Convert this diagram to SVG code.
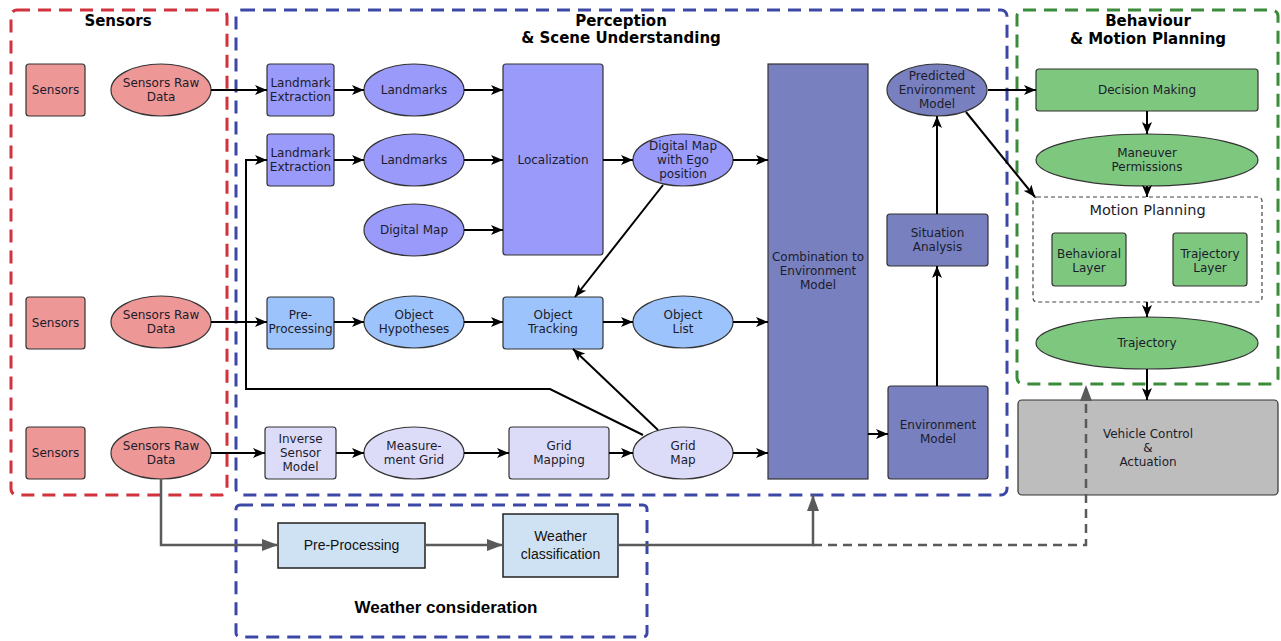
<svg xmlns="http://www.w3.org/2000/svg" width="1281" height="641" viewBox="0 0 1281 641">
<style>
.t{font-family:"DejaVu Sans",Verdana,sans-serif;font-size:12px;fill:#1c1c2c;text-anchor:middle}
.h{font-family:"DejaVu Sans",Verdana,sans-serif;font-size:15px;font-weight:bold;fill:#000;text-anchor:middle}
.w{font-family:"Liberation Sans",Arial,sans-serif;font-size:14px;fill:#111;text-anchor:middle}
.wh{font-family:"Liberation Sans",Arial,sans-serif;font-size:17px;font-weight:bold;fill:#000;text-anchor:middle}
.nd{stroke:#333;stroke-width:1.2}
.pink{fill:#ee9797}
.lav{fill:#9a9afa}
.obj{fill:#9cc3fb}
.grid{fill:#dcdcf9}
.env{fill:#7880bf}
.grn{fill:#7ec77f}
.gry{fill:#bdbdbd}
.wx{fill:#cfe2f3;stroke:#222;stroke-width:1.5}
.fr{fill:none;stroke-width:3;stroke-dasharray:13 8}
.c{fill:none;stroke:#000;stroke-width:2;marker-end:url(#ab)}
.cg{fill:none;stroke:#5a5a5a;stroke-width:2.5}
</style>
<defs>
<marker id="ab" markerUnits="userSpaceOnUse" markerWidth="12" markerHeight="10" refX="12" refY="5" orient="auto">
<path d="M0,0 L12,5 L0,10 L3,5 z" fill="#000"/>
</marker>
<marker id="ag" markerUnits="userSpaceOnUse" markerWidth="16" markerHeight="12" refX="16" refY="6" orient="auto">
<path d="M0,0 L16,6 L0,12 z" fill="#5a5a5a"/>
</marker>
</defs>

<g id="frames">
<rect x="11" y="10" width="216" height="485" rx="6" class="fr" stroke="#d2323c"/>
<rect x="236" y="10" width="771" height="485" rx="6" class="fr" stroke="#3d48a6"/>
<rect x="1017" y="10" width="261" height="374" rx="6" class="fr" stroke="#3a8b3a"/>
<rect x="236" y="505" width="411" height="132" rx="4" class="fr" stroke="#3d48a6"/>
<text class="h" x="118" y="26">Sensors</text>
<text class="h" x="621" y="26">Perception</text>
<text class="h" x="621" y="43">&amp; Scene Understanding</text>
<text class="h" x="1148" y="26">Behaviour</text>
<text class="h" x="1148" y="44">&amp; Motion Planning</text>
<text class="wh" x="446" y="613">Weather consideration</text>
</g>

<g id="sensors1"><rect x="26" y="64" width="59" height="52" rx="3" class="nd pink"/><text class="t" x="55.5" y="94">Sensors</text></g>
<g id="raw1"><ellipse cx="161" cy="90" rx="50" ry="26" class="nd pink"/><text class="t" x="161" y="87">Sensors Raw</text><text class="t" x="161" y="101">Data</text></g>
<g id="sensors2"><rect x="26" y="297" width="59" height="52" rx="3" class="nd pink"/><text class="t" x="55.5" y="327">Sensors</text></g>
<g id="raw2"><ellipse cx="161" cy="322" rx="50" ry="26" class="nd pink"/><text class="t" x="161" y="319">Sensors Raw</text><text class="t" x="161" y="333">Data</text></g>
<g id="sensors3"><rect x="26" y="427" width="59" height="52" rx="3" class="nd pink"/><text class="t" x="55.5" y="457">Sensors</text></g>
<g id="raw3"><ellipse cx="161" cy="453" rx="50" ry="26" class="nd pink"/><text class="t" x="161" y="450">Sensors Raw</text><text class="t" x="161" y="464">Data</text></g>

<g id="lmx1"><rect x="267" y="64" width="67" height="52" rx="3" class="nd lav"/><text class="t" x="300.5" y="87">Landmark</text><text class="t" x="300.5" y="101">Extraction</text></g>
<g id="lm1"><ellipse cx="414" cy="90" rx="50" ry="26" class="nd lav"/><text class="t" x="414" y="94">Landmarks</text></g>
<g id="lmx2"><rect x="267" y="134" width="67" height="52" rx="3" class="nd lav"/><text class="t" x="300.5" y="157">Landmark</text><text class="t" x="300.5" y="171">Extraction</text></g>
<g id="lm2"><ellipse cx="414" cy="160" rx="50" ry="26" class="nd lav"/><text class="t" x="414" y="164">Landmarks</text></g>
<g id="dmap"><ellipse cx="414" cy="230" rx="50" ry="26" class="nd lav"/><text class="t" x="414" y="234">Digital Map</text></g>
<g id="loc"><rect x="503" y="64" width="100" height="191" rx="3" class="nd lav"/><text class="t" x="553" y="164">Localization</text></g>
<g id="dmego"><ellipse cx="683" cy="160" rx="50" ry="26" class="nd lav"/><text class="t" x="683" y="150">Digital Map</text><text class="t" x="683" y="164">with Ego</text><text class="t" x="683" y="178">position</text></g>

<g id="prep"><rect x="267" y="297" width="67" height="52" rx="3" class="nd obj"/><text class="t" x="300.5" y="319">Pre-</text><text class="t" x="300.5" y="333">Processing</text></g>
<g id="ohyp"><ellipse cx="414" cy="322" rx="50" ry="26" class="nd obj"/><text class="t" x="414" y="319">Object</text><text class="t" x="414" y="333">Hypotheses</text></g>
<g id="otrack"><rect x="503" y="297" width="100" height="52" rx="3" class="nd obj"/><text class="t" x="553" y="319">Object</text><text class="t" x="553" y="333">Tracking</text></g>
<g id="olist"><ellipse cx="683" cy="322" rx="50" ry="26" class="nd obj"/><text class="t" x="683" y="319">Object</text><text class="t" x="683" y="333">List</text></g>

<g id="ism"><rect x="265" y="427" width="71" height="52" rx="3" class="nd grid"/><text class="t" x="300.5" y="443">Inverse</text><text class="t" x="300.5" y="457">Sensor</text><text class="t" x="300.5" y="471">Model</text></g>
<g id="mgrid"><ellipse cx="414" cy="453" rx="50" ry="26" class="nd grid"/><text class="t" x="414" y="450">Measure-</text><text class="t" x="414" y="464">ment Grid</text></g>
<g id="gmapping"><rect x="509" y="427" width="100" height="52" rx="3" class="nd grid"/><text class="t" x="559" y="450">Grid</text><text class="t" x="559" y="464">Mapping</text></g>
<g id="gmap"><ellipse cx="683" cy="453" rx="50" ry="26" class="nd grid"/><text class="t" x="683" y="450">Grid</text><text class="t" x="683" y="464">Map</text></g>

<g id="comb"><rect x="768" y="64" width="100" height="415" class="nd env"/><text class="t" x="818" y="261">Combination to</text><text class="t" x="818" y="275">Environment</text><text class="t" x="818" y="289">Model</text></g>
<g id="pem"><ellipse cx="937" cy="90" rx="50" ry="26" class="nd env"/><text class="t" x="937" y="80">Predicted</text><text class="t" x="937" y="94">Environment</text><text class="t" x="937" y="108">Model</text></g>
<g id="sit"><rect x="887" y="214" width="101" height="52" rx="3" class="nd env"/><text class="t" x="937.5" y="237">Situation</text><text class="t" x="937.5" y="251">Analysis</text></g>
<g id="envm"><rect x="888" y="386" width="100" height="93" rx="3" class="nd env"/><text class="t" x="938" y="429">Environment</text><text class="t" x="938" y="443">Model</text></g>

<g id="dm"><rect x="1036" y="69" width="222" height="42" rx="3" class="nd grn"/><text class="t" x="1147" y="94">Decision Making</text></g>
<g id="mperm"><ellipse cx="1147" cy="160" rx="111" ry="26" class="nd grn"/><text class="t" x="1147" y="157">Maneuver</text><text class="t" x="1147" y="171">Permissions</text></g>
<g id="mplan"><rect x="1033" y="197" width="229" height="105" rx="4" fill="#fff" stroke="#444" stroke-width="1.2" stroke-dasharray="4 3"/><text class="t" x="1147.5" y="215" style="font-size:14.5px">Motion Planning</text></g>
<g id="beh"><rect x="1052" y="233" width="74" height="53" rx="3" class="nd grn"/><text class="t" x="1089" y="258">Behavioral</text><text class="t" x="1089" y="272">Layer</text></g>
<g id="trajl"><rect x="1173" y="233" width="74" height="53" rx="3" class="nd grn"/><text class="t" x="1210" y="258">Trajectory</text><text class="t" x="1210" y="272">Layer</text></g>
<g id="traj"><ellipse cx="1147" cy="343" rx="111" ry="26" class="nd grn"/><text class="t" x="1147" y="347">Trajectory</text></g>
<g id="vca"><rect x="1018" y="400" width="260" height="95" rx="4" class="nd gry"/><text class="t" x="1148" y="438">Vehicle Control</text><text class="t" x="1148" y="452">&amp;</text><text class="t" x="1148" y="466">Actuation</text></g>

<g id="wprep"><rect x="278" y="523" width="147" height="45" class="wx"/><text class="w" x="351.5" y="550">Pre-Processing</text></g>
<g id="wclass"><rect x="503" y="514" width="115" height="63" class="wx"/><text class="w" x="560.5" y="541">Weather</text><text class="w" x="560.5" y="559">classification</text></g>

<g id="connectors">
<path class="c" d="M211,90 H267"/>
<path class="c" d="M334,90 H364"/>
<path class="c" d="M464,90 H503"/>
<path class="c" d="M643,435 L550,389 H246 V160 H267"/>
<path class="c" d="M334,160 H364"/>
<path class="c" d="M464,160 H503"/>
<path class="c" d="M464,230 H503"/>
<path class="c" d="M603,160 H633"/>
<path class="c" d="M733,160 H768"/>
<path class="c" d="M663,185 L575,297"/>
<path class="c" d="M211,322 H267"/>
<path class="c" d="M334,322 H364"/>
<path class="c" d="M464,322 H503"/>
<path class="c" d="M603,322 H633"/>
<path class="c" d="M733,322 H768"/>
<path class="c" d="M658,430 L573,349"/>
<path class="c" d="M211,453 H265"/>
<path class="c" d="M336,453 H364"/>
<path class="c" d="M464,453 H509"/>
<path class="c" d="M609,453 H633"/>
<path class="c" d="M733,453 H768"/>
<path class="c" d="M868,434 H888"/>
<path class="c" d="M937,386 V266"/>
<path class="c" d="M937,214 V116"/>
<path class="c" d="M988,90 H1036"/>
<path class="c" d="M966,112 L1035,197"/>
<path class="c" d="M1147,111 V134"/>
<path class="c" d="M1147,186 V197"/>
<path class="c" d="M1147,302 V317"/>
<path class="c" d="M1147,369 V400"/>
<path class="cg" d="M161,479 V545 H278" marker-end="url(#ag)"/>
<path class="cg" d="M425,545 H503" marker-end="url(#ag)"/>
<path class="cg" d="M618,545 H813 V495" marker-end="url(#ag)"/>
<path class="cg" d="M813,545 H1086 V385" stroke-dasharray="9 6" marker-end="url(#ag)"/>
</g>
</svg>
